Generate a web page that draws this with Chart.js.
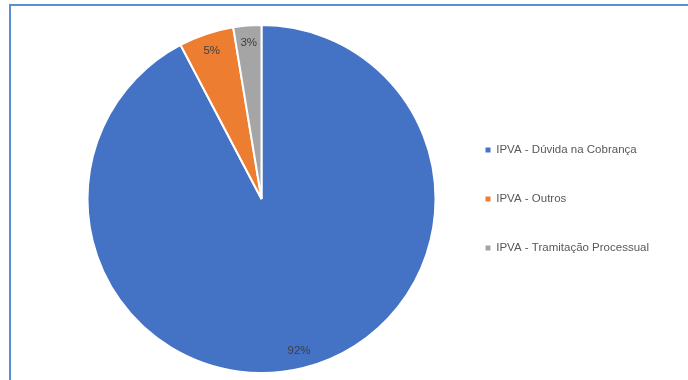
<!DOCTYPE html>
<html>
<head>
<meta charset="utf-8">
<script src="https://cdn.jsdelivr.net/npm/chart.js@4.4.1/dist/chart.umd.min.js"></script>
<style>
  html, body { margin: 0; padding: 0; background: #fff; }
  #wrap { position: relative; width: 688px; height: 380px; overflow: hidden; }
  #frame {
    position: absolute; left: 9px; top: 4px; width: 720px; height: 420px;
    border-left: 2px solid #5b8fd4; border-top: 2px solid #5b8fd4;
  }
  canvas { position: absolute; left: 0; top: 0; }
</style>
</head>
<body>
<div id="wrap">
  <div id="frame"></div>
  <canvas id="chart" width="688" height="380"></canvas>
</div>
<script>
// categories and shares (%)
const categories = ['IPVA - Dúvida na Cobrança', 'IPVA - Outros', 'IPVA - Tramitação Processual'];
const shares = [92.3, 5.1, 2.6];
const sliceColors = ['#4472C4', '#ED7D31', '#A5A5A5'];

const FONT = 'Liberation Sans';

// percent labels drawn inside each slice
const sliceLabels = {
  id: 'sliceLabels',
  afterDatasetsDraw(chart) {
    const ctx = chart.ctx;
    const meta = chart.getDatasetMeta(0);
    const total = shares.reduce((a, b) => a + b, 0);
    ctx.save();
    ctx.font = '11.5px "' + FONT + '"';
    ctx.fillStyle = '#404040';
    ctx.textAlign = 'center';
    ctx.textBaseline = 'middle';
    meta.data.forEach((arc, i) => {
      const p = arc.getProps(['x', 'y', 'startAngle', 'endAngle', 'outerRadius'], true);
      const mid = (p.startAngle + p.endAngle) / 2;
      const r = p.outerRadius * 0.9;
      const pct = Math.round(shares[i] / total * 100) + '%';
      ctx.fillText(pct, p.x + Math.cos(mid) * r, p.y + Math.sin(mid) * r);
    });
    ctx.restore();
  }
};

new Chart(document.getElementById('chart'), {
  type: 'pie',
  data: {
    labels: categories,
    datasets: [{
      data: shares,
      backgroundColor: sliceColors,
      borderColor: '#ffffff',
      borderWidth: 2
    }]
  },
  options: {
    responsive: false,
    animation: false,
    layout: { padding: { top: 24, bottom: 6, left: 75, right: 29 } },
    plugins: {
      tooltip: { enabled: false },
      legend: {
        position: 'right',
        labels: {
          boxWidth: 5,
          boxHeight: 5,
          padding: 37.5,
          color: '#595959',
          font: { family: FONT, size: 11.5 },
          generateLabels(chart) {
            const items = Chart.overrides.pie.plugins.legend.labels.generateLabels(chart);
            items.forEach(it => { it.lineWidth = 0; it.strokeStyle = 'rgba(0,0,0,0)'; });
            return items;
          }
        }
      }
    }
  },
  plugins: [sliceLabels]
});
</script>
</body>
</html>
